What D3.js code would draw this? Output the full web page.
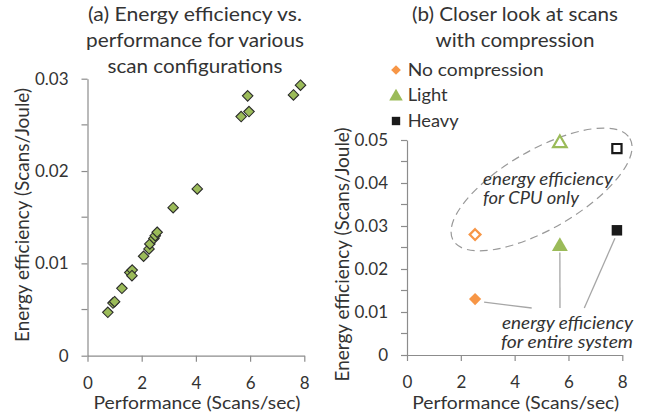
<!DOCTYPE html>
<html>
<head>
<meta charset="utf-8">
<script src="https://cdn.jsdelivr.net/npm/d3@7"></script>
<style>
  body { margin: 0; background: #fff; }
  svg text { font-family: Lato, "Noto Sans", sans-serif; fill: #333; }
</style>
</head>
<body>
<svg id="chart" width="650" height="418"></svg>
<script>
// (a) all scan configurations
var perfA = [0.75, 0.94, 1.0, 1.27, 1.56, 1.65, 1.64, 2.07, 2.27, 2.3, 2.45, 2.5, 2.57, 3.16, 4.05, 5.67, 5.91, 5.96, 7.6, 7.86];
var effA = [0.0047, 0.0057, 0.00585, 0.0073, 0.009, 0.00928, 0.00867, 0.01077, 0.01156, 0.0121, 0.0127, 0.013, 0.01337, 0.01603, 0.01806, 0.0259, 0.02814, 0.02644, 0.02824, 0.0293];

// (b) compression variants
var seriesNames = ["No compression", "Light", "Heavy"];
var perfB = [2.53, 5.68, 7.8];
var effSystem = [0.013, 0.0257, 0.029];
var effCpu = [0.028, 0.0497, 0.048];

var xTicks = [0, 2, 4, 6, 8];
var yTicksA = [0, 0.01, 0.02, 0.03];
var yTicksB = [0, 0.01, 0.02, 0.03, 0.04, 0.05];

var colors = ["#f79646", "#9bbb59", "#1a1a1a"];
var axisColor = "#8c8c8c";

var svg = d3.select("#chart");

// scales
var xA = d3.scaleLinear().domain([0, 8]).range([87.5, 304.3]);
var yA = d3.scaleLinear().domain([0, 0.03]).range([355.7, 78.7]);
var xB = d3.scaleLinear().domain([0, 8]).range([407, 622.3]);
var yB = d3.scaleLinear().domain([0, 0.05]).range([355, 140]);

// text squeezed/stretched to the width the reference shows
function fitText(parent, str, x, y, size, width, anchor) {
    return parent.append("text")
        .attr("x", x).attr("y", y)
        .attr("font-size", size)
        .attr("text-anchor", anchor || "middle")
        .attr("textLength", width).attr("lengthAdjust", "spacingAndGlyphs")
        .text(str);
}

function drawAxes(x, y, yTicks, yTitleX, yTitleY) {
    var g = svg.append("g");
    // y minor ticks halfway between the majors
    var minor = [];
    for (var i = 0; i < yTicks.length - 1; i++) minor.push((yTicks[i] + yTicks[i + 1]) / 2);

    var yAxis = g.append("g")
        .attr("transform", "translate(" + x(0) + ",0)")
        .call(d3.axisLeft(y).tickValues(yTicks).tickSize(6).tickPadding(13).tickSizeOuter(0)
            .tickFormat(function (d) { return d === 0 ? "0" : d3.format(".2f")(d); }));
    yAxis.attr("font-family", null);
    yAxis.select(".domain").attr("stroke", axisColor).attr("stroke-width", 1.2);
    yAxis.selectAll(".tick line").attr("stroke", axisColor).attr("stroke-width", 1.2);
    yAxis.selectAll("text").attr("font-size", 17).style("fill", "#333");

    g.append("g").selectAll("line").data(minor).enter().append("line")
        .attr("x1", x(0) - 6).attr("x2", x(0))
        .attr("y1", function (d) { return y(d); }).attr("y2", function (d) { return y(d); })
        .attr("stroke", axisColor).attr("stroke-width", 1.2);

    var xAxis = g.append("g")
        .attr("transform", "translate(0," + y(0) + ")")
        .call(d3.axisBottom(x).tickValues(xTicks).tickSize(6).tickPadding(15).tickSizeOuter(0));
    xAxis.attr("font-family", null);
    xAxis.select(".domain").attr("stroke", axisColor).attr("stroke-width", 1.2);
    xAxis.selectAll(".tick line").attr("stroke", axisColor).attr("stroke-width", 1.2);
    xAxis.selectAll("text").attr("font-size", 17).style("fill", "#333");

    fitText(g, "Performance (Scans/sec)", (x(0) + x(8)) / 2 + 1, 409, 17, 207);

    g.append("text")
        .attr("transform", "translate(" + yTitleX + "," + yTitleY + ") rotate(-90)")
        .attr("text-anchor", "middle").attr("dy", "0.35em").attr("font-size", 19)
        .attr("textLength", 254).attr("lengthAdjust", "spacingAndGlyphs")
        .text("Energy efficiency (Scans/Joule)");
}

drawAxes(xA, yA, yTicksA, 22, 215);
drawAxes(xB, yB, yTicksB, 342, 254.5);

// titles
fitText(svg, "(a) Energy efficiency vs.", 195, 21, 20, 214);
fitText(svg, "performance for various", 195, 47, 20, 218);
fitText(svg, "scan configurations", 195, 73, 20, 175);
fitText(svg, "(b) Closer look at scans", 515, 21, 20, 206);
fitText(svg, "with compression", 515, 47, 20, 159);

// (a) points
var diamond = d3.symbol().type(d3.symbolDiamond2).size(70);
svg.append("g").selectAll("path").data(perfA).enter().append("path")
    .attr("d", diamond)
    .attr("transform", function (d, i) { return "translate(" + xA(d) + "," + yA(effA[i]) + ")"; })
    .attr("fill", "#9bbb59").attr("stroke", "#2b2b2b").attr("stroke-width", 1.1);

// (b) ellipse around CPU-only points
var ellCx = xB(5.0), ellCy = yB(0.0385);
svg.append("ellipse")
    .attr("cx", ellCx).attr("cy", ellCy).attr("rx", 102).attr("ry", 39.5)
    .attr("transform", "rotate(-30," + ellCx + "," + ellCy + ")")
    .attr("fill", "none").attr("stroke", "#999").attr("stroke-width", 1.2)
    .attr("stroke-dasharray", "8,5");

// leader lines to the system annotation
var leaderEnds = [[531.7, 308], [560, 308], [584.3, 308]];
var leaderOff = [[9, 3], [0, 8], [-2, 8]];
svg.append("g").selectAll("line").data(perfB).enter().append("line")
    .attr("x1", function (d, i) { return xB(d) + leaderOff[i][0]; })
    .attr("y1", function (d, i) { return yB(effSystem[i]) + leaderOff[i][1]; })
    .attr("x2", function (d, i) { return leaderEnds[i][0]; })
    .attr("y2", function (d, i) { return leaderEnds[i][1]; })
    .attr("stroke", "#a6a6a6").attr("stroke-width", 1.3);

var symTypes = [d3.symbolDiamond2, d3.symbolTriangle, d3.symbolSquare];
var symSizes = [95, 110, 110];
var symHollow = [75, 80, 85];

function markerPath(i, size) {
    return d3.symbol().type(symTypes[i]).size(size)();
}

// system (filled) markers
svg.append("g").selectAll("path").data(perfB).enter().append("path")
    .attr("d", function (d, i) { return markerPath(i, symSizes[i]); })
    .attr("transform", function (d, i) {
        var dy = i === 1 ? 2 : 0;
        return "translate(" + xB(d) + "," + (yB(effSystem[i]) + dy) + ")";
    })
    .attr("fill", function (d, i) { return colors[i]; });

// CPU-only (hollow) markers
svg.append("g").selectAll("path").data(perfB).enter().append("path")
    .attr("d", function (d, i) { return markerPath(i, symHollow[i]); })
    .attr("transform", function (d, i) {
        var dy = i === 1 ? 2 : 0;
        return "translate(" + xB(d) + "," + (yB(effCpu[i]) + dy) + ")";
    })
    .attr("fill", "#fff").attr("stroke", function (d, i) { return colors[i]; })
    .attr("stroke-width", 2.2);

// annotations
fitText(svg, "energy efficiency", 483, 185, 17, 130, "start").attr("font-style", "italic");
fitText(svg, "for CPU only", 483, 204, 17, 96, "start").attr("font-style", "italic");
fitText(svg, "energy efficiency", 633, 329, 16.5, 131, "end").attr("font-style", "italic");
fitText(svg, "for entire system", 633, 348, 16.5, 132, "end").attr("font-style", "italic");

// legend
var legendY = [70, 95, 121];
var legendW = [136, 40, 51];
var legend = svg.append("g").selectAll("g").data(seriesNames).enter().append("g")
    .attr("transform", function (d, i) { return "translate(396," + legendY[i] + ")"; });
legend.append("path")
    .attr("d", function (d, i) { return markerPath(i, [60, 80, 70][i]); })
    .attr("transform", function (d, i) { return i === 1 ? "translate(0,1.5)" : null; })
    .attr("fill", function (d, i) { return colors[i]; });
legend.append("text")
    .attr("x", 11.7).attr("dy", "0.35em").attr("font-size", 18)
    .attr("textLength", function (d, i) { return legendW[i]; })
    .attr("lengthAdjust", "spacingAndGlyphs")
    .text(function (d) { return d; });
</script>
</body>
</html>
